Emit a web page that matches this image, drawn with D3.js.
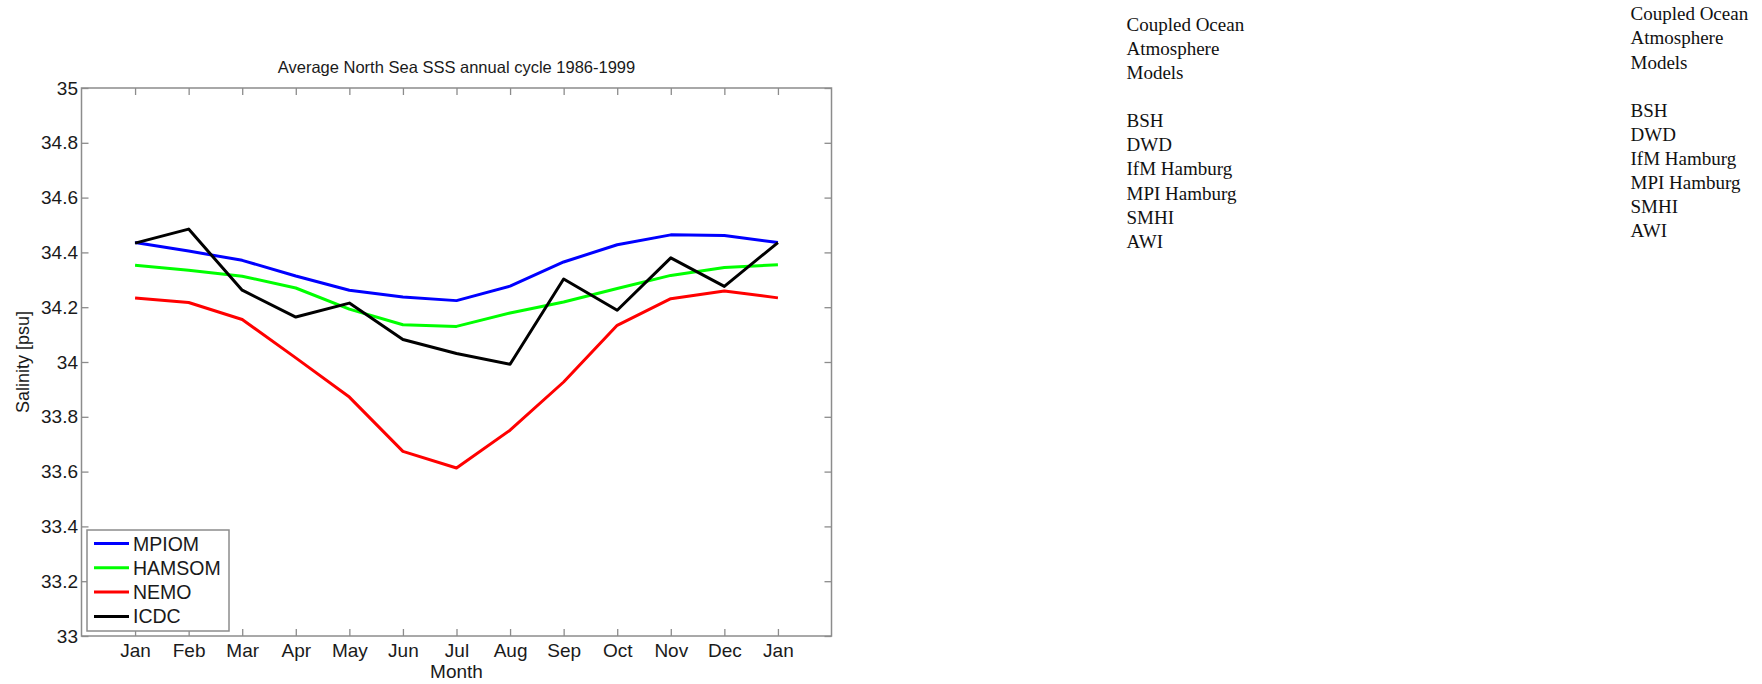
<!DOCTYPE html>
<html>
<head>
<meta charset="utf-8">
<script src="https://cdn.jsdelivr.net/npm/d3@7/dist/d3.min.js"></script>
<style>
  html, body { margin: 0; padding: 0; background: #fff; }
  svg { display: block; }
</style>
</head>
<body>
<svg id="chart" width="1762" height="684"></svg>
<script>
// Monthly mean sea surface salinity, North Sea, 1986-1999 (January repeated to close the cycle)
const months = ["Jan", "Feb", "Mar", "Apr", "May", "Jun", "Jul", "Aug", "Sep", "Oct", "Nov", "Dec", "Jan"];
const mpiom  = [34.436, 34.405, 34.371, 34.314, 34.262, 34.237, 34.224, 34.277, 34.365, 34.428, 34.464, 34.462, 34.436];
const hamsom = [34.353, 34.335, 34.313, 34.270, 34.193, 34.136, 34.130, 34.179, 34.219, 34.268, 34.316, 34.345, 34.355];
const nemo   = [34.234, 34.217, 34.155, 34.015, 33.872, 33.674, 33.613, 33.751, 33.927, 34.134, 34.231, 34.259, 34.234];
const icdc   = [34.434, 34.485, 34.262, 34.164, 34.215, 34.082, 34.031, 33.992, 34.303, 34.189, 34.380, 34.276, 34.436];
const seriesNames  = ["MPIOM", "HAMSOM", "NEMO", "ICDC"];
const seriesColors = ["#0000ff", "#00ff00", "#ff0000", "#000000"];
const yTicks = [33, 33.2, 33.4, 33.6, 33.8, 34, 34.2, 34.4, 34.6, 34.8, 35];

// Side notes
const notesTitle = ["Coupled Ocean", "Atmosphere", "Models"];
const notesInstitutes = ["BSH", "DWD", "IfM Hamburg", "MPI Hamburg", "SMHI", "AWI"];

const series = [mpiom, hamsom, nemo, icdc];

const svg = d3.select("#chart");
const sans = "'Liberation Sans', Arial, Helvetica, sans-serif";
const serif = "'Liberation Serif', 'Times New Roman', serif";
const axisColor = "#8c8c8c";
const textColor = "#1a1a1a";

const plot = { left: 81.5, right: 831.5, top: 88, bottom: 636 };

const x = d3.scaleLinear().domain([-1, months.length]).range([plot.left, plot.right]);
const y = d3.scaleLinear().domain([33, 35]).range([plot.bottom, plot.top]);
const monthIdx = months.map((_, i) => i);
const fmt = d => String(+d.toFixed(1));

// Frame with inward ticks on all four sides
function styleAxis(g) {
  g.attr("font-family", null).attr("font-size", null);
  g.select(".domain").remove();
  g.selectAll(".tick line").attr("stroke", axisColor).attr("stroke-width", 1.3);
  g.selectAll(".tick text")
    .style("fill", textColor)
    .style("font-family", sans)
    .style("font-size", "19px");
}

svg.append("g")
  .attr("transform", `translate(0,${plot.bottom})`)
  .call(d3.axisBottom(x).tickValues(monthIdx).tickFormat(i => months[i]).tickSizeInner(-7).tickSizeOuter(0).tickPadding(8))
  .call(styleAxis);

svg.append("g")
  .attr("transform", `translate(0,${plot.top})`)
  .call(d3.axisTop(x).tickValues(monthIdx).tickFormat("").tickSizeInner(-7).tickSizeOuter(0))
  .call(styleAxis);

svg.append("g")
  .attr("transform", `translate(${plot.left},0)`)
  .call(d3.axisLeft(y).tickValues(yTicks).tickFormat(fmt).tickSizeInner(-7).tickSizeOuter(0).tickPadding(3.5))
  .call(styleAxis);

svg.append("g")
  .attr("transform", `translate(${plot.right},0)`)
  .call(d3.axisRight(y).tickValues(yTicks).tickFormat("").tickSizeInner(-7).tickSizeOuter(0))
  .call(styleAxis);

svg.append("rect")
  .attr("x", plot.left).attr("y", plot.top)
  .attr("width", plot.right - plot.left).attr("height", plot.bottom - plot.top)
  .attr("fill", "none").attr("stroke", axisColor).attr("stroke-width", 1.5);

// Series lines
const line = d3.line().x((d, i) => x(i)).y(d => y(d));
series.forEach((s, k) => {
  svg.append("path")
    .datum(s)
    .attr("d", line)
    .attr("fill", "none")
    .attr("stroke", seriesColors[k])
    .attr("stroke-width", 3)
    .attr("stroke-linejoin", "round");
});

// Title and axis labels
svg.append("text")
  .attr("x", (plot.left + plot.right) / 2).attr("y", 73)
  .attr("text-anchor", "middle")
  .style("font-family", sans).style("font-size", "16.5px").style("fill", textColor)
  .text("Average North Sea SSS annual cycle 1986-1999");

svg.append("text")
  .attr("x", x(6)).attr("y", 678)
  .attr("text-anchor", "middle")
  .style("font-family", sans).style("font-size", "19px").style("fill", textColor)
  .text("Month");

svg.append("text")
  .attr("transform", `translate(29,${(plot.top + plot.bottom) / 2}) rotate(-90)`)
  .attr("text-anchor", "middle")
  .style("font-family", sans).style("font-size", "18px").style("fill", textColor)
  .text("Salinity [psu]");

// Legend
const legend = svg.append("g").attr("transform", "translate(87,530)");
legend.append("rect")
  .attr("width", 142).attr("height", 101)
  .attr("fill", "#fff").attr("stroke", axisColor).attr("stroke-width", 1.5);
seriesNames.forEach((name, k) => {
  const cy = 13.5 + k * 24.3;
  legend.append("line")
    .attr("x1", 7).attr("x2", 42).attr("y1", cy).attr("y2", cy)
    .attr("stroke", seriesColors[k]).attr("stroke-width", 3);
  legend.append("text")
    .attr("x", 46).attr("y", cy)
    .attr("dominant-baseline", "central")
    .style("font-family", sans).style("font-size", "19.5px").style("fill", textColor)
    .text(name);
});

// Side notes, drawn twice
function notes(x0, y0) {
  const lines = [...notesTitle, "", ...notesInstitutes];
  const g = svg.append("g");
  lines.forEach((t, i) => {
    if (!t) return;
    g.append("text")
      .attr("x", x0).attr("y", y0 + i * 24.1)
      .style("font-family", serif).style("font-size", "19px").style("fill", "#111")
      .text(t);
  });
}
notes(1126.5, 30.8);
notes(1630.5, 20.3);
</script>
</body>
</html>
